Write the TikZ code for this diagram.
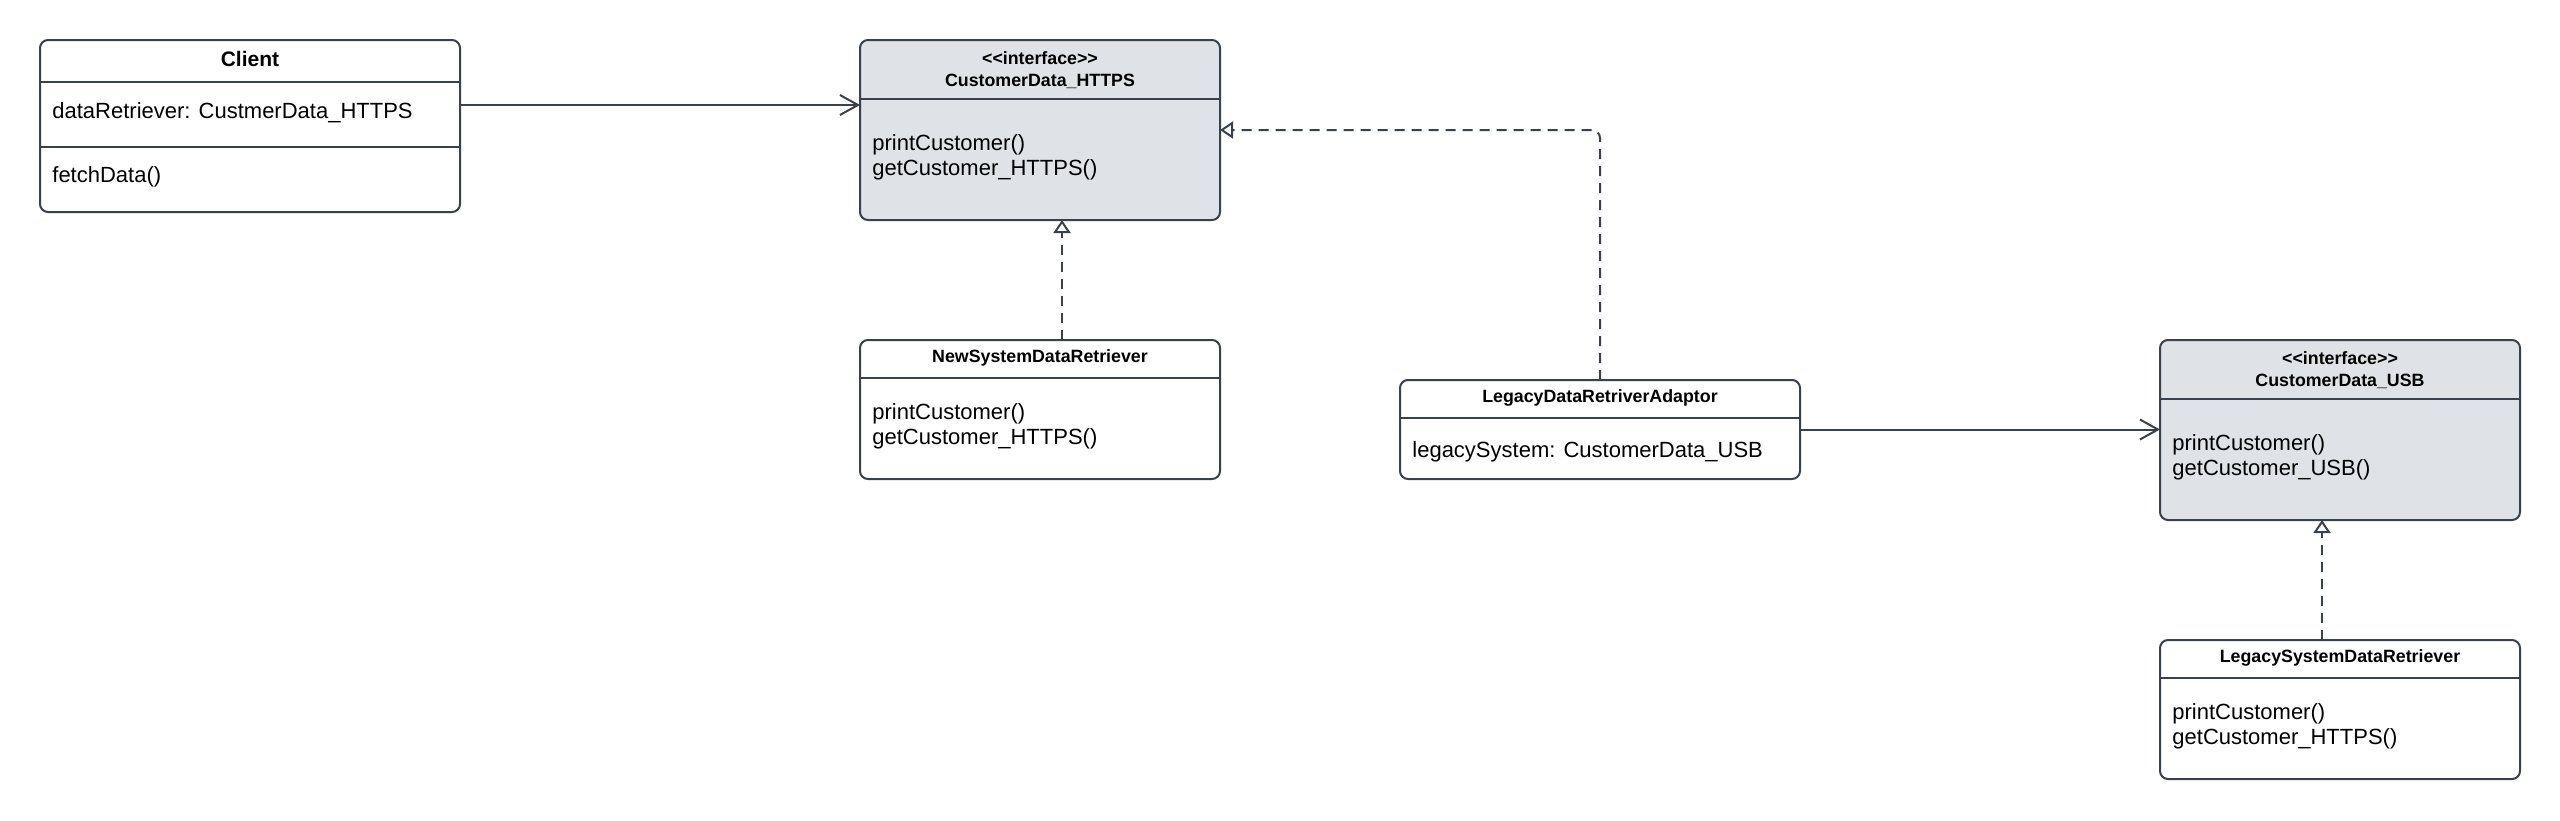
\documentclass[tikz,border=0pt]{standalone}
\usepackage{fontspec}
\setmainfont{Liberation Sans}
\usetikzlibrary{positioning, arrows.meta}
\definecolor{edge}{HTML}{3A414A}
\definecolor{ifill}{HTML}{DFE3E8}

\begin{document}
\begin{tikzpicture}[
  cls/.style={draw=edge, line width=1pt, rounded corners=4pt, fill=white,
              outer sep=0pt, inner sep=0pt},
  iface/.style={cls, fill=ifill},
  ttl/.style={inner sep=0pt, align=center,
              font=\fontsize{8.9}{11}\selectfont\bfseries},
  txt/.style={inner sep=0pt, align=left, anchor=west,
              font=\fontsize{11}{12.5}\selectfont},
  sep/.style={draw=edge, line width=1pt},
  assoc/.style={draw=edge, line width=1pt,
                -{Straight Barb[length=9pt, width=10pt]}},
  real/.style={draw=edge, line width=1pt, dash pattern=on 5pt off 3.5pt,
               rounded corners=4pt, -{Triangle[open, length=6.5pt, width=8.5pt]}},
]
  \useasboundingbox (0,0) rectangle (1280pt,-410pt);

  % client
  \node[cls, minimum width=210pt, minimum height=86pt, anchor=north west] (client) at (20pt,-20pt) {};
  \node[ttl, font=\fontsize{10.5}{12}\selectfont\bfseries] (clientname) at ([yshift=-9.4pt]client.north) {Client};
  \draw[sep] ([yshift=-21pt]client.north west) -- ([yshift=-21pt]client.north east);
  \draw[sep] ([yshift=-53.5pt]client.north west) -- ([yshift=-53.5pt]client.north east);
  \node[txt] (clientattr) at ([xshift=6pt, yshift=-36.5pt]client.north west) {dataRetriever: CustmerData\_HTTPS};
  \node[txt] (clientop) at ([xshift=6pt, yshift=-68.5pt]client.north west) {fetchData()};

  % https interface
  \node[iface, minimum width=180pt, minimum height=90pt, anchor=north west] (https) at ([xshift=200pt]client.north east) {};
  \node[ttl] (httpsname) at ([yshift=-14.9pt]https.north) {<\kern0pt<interface>\kern0pt>\\CustomerData\_HTTPS};
  \draw[sep] ([yshift=-29.5pt]https.north west) -- ([yshift=-29.5pt]https.north east);
  \node[txt] (httpsops) at ([xshift=6pt, yshift=-58.75pt]https.north west) {printCustomer()\\getCustomer\_HTTPS()};

  % new system
  \node[cls, minimum width=180pt, minimum height=69.5pt, below=60pt of https] (newsys) {};
  \node[ttl] (newsysname) at ([yshift=-9pt]newsys.north) {NewSystemDataRetriever};
  \draw[sep] ([yshift=-19pt]newsys.north west) -- ([yshift=-19pt]newsys.north east);
  \node[txt] (newsysops) at ([xshift=6pt, yshift=-43.25pt]newsys.north west) {printCustomer()\\getCustomer\_HTTPS()};

  % adaptor
  \node[cls, minimum width=200pt, minimum height=49.5pt, right=90pt of newsys.south east, anchor=south west] (adaptor) {};
  \node[ttl] (adaptorname) at ([yshift=-9pt]adaptor.north) {LegacyDataRetriverAdaptor};
  \draw[sep] ([yshift=-19pt]adaptor.north west) -- ([yshift=-19pt]adaptor.north east);
  \node[txt] (adaptorattr) at ([xshift=6pt, yshift=-36pt]adaptor.north west) {legacySystem: CustomerData\_USB};

  % usb interface
  \node[iface, minimum width=180pt, minimum height=90pt, right=470pt of newsys.north east, anchor=north west] (usb) {};
  \node[ttl] (usbname) at ([yshift=-14.9pt]usb.north) {<\kern0pt<interface>\kern0pt>\\CustomerData\_USB};
  \draw[sep] ([yshift=-29.5pt]usb.north west) -- ([yshift=-29.5pt]usb.north east);
  \node[txt] (usbops) at ([xshift=6pt, yshift=-58.75pt]usb.north west) {printCustomer()\\getCustomer\_USB()};

  % legacy system
  \node[cls, minimum width=180pt, minimum height=69.5pt, below=60pt of usb] (legsys) {};
  \node[ttl] (legsysname) at ([yshift=-9pt]legsys.north) {LegacySystemDataRetriever};
  \draw[sep] ([yshift=-19pt]legsys.north west) -- ([yshift=-19pt]legsys.north east);
  \node[txt] (legsysops) at ([xshift=6pt, yshift=-43.25pt]legsys.north west) {printCustomer()\\getCustomer\_HTTPS()};

  % connectors
  \coordinate (clientout) at ([yshift=10.5pt]client.east);
  \coordinate (newsystop) at ([xshift=11pt]newsys.north);
  \coordinate (legsystop) at ([xshift=-9pt]legsys.north);
  \draw[assoc] (clientout) -- (clientout -| https.west);
  \draw[assoc] (adaptor.east) -- (adaptor.east -| usb.west);
  \draw[real] (newsystop) -- (newsystop |- https.south);
  \draw[real] (adaptor.north) |- (https.east);
  \draw[real] (legsystop) -- (legsystop |- usb.south);
\end{tikzpicture}
\end{document}
